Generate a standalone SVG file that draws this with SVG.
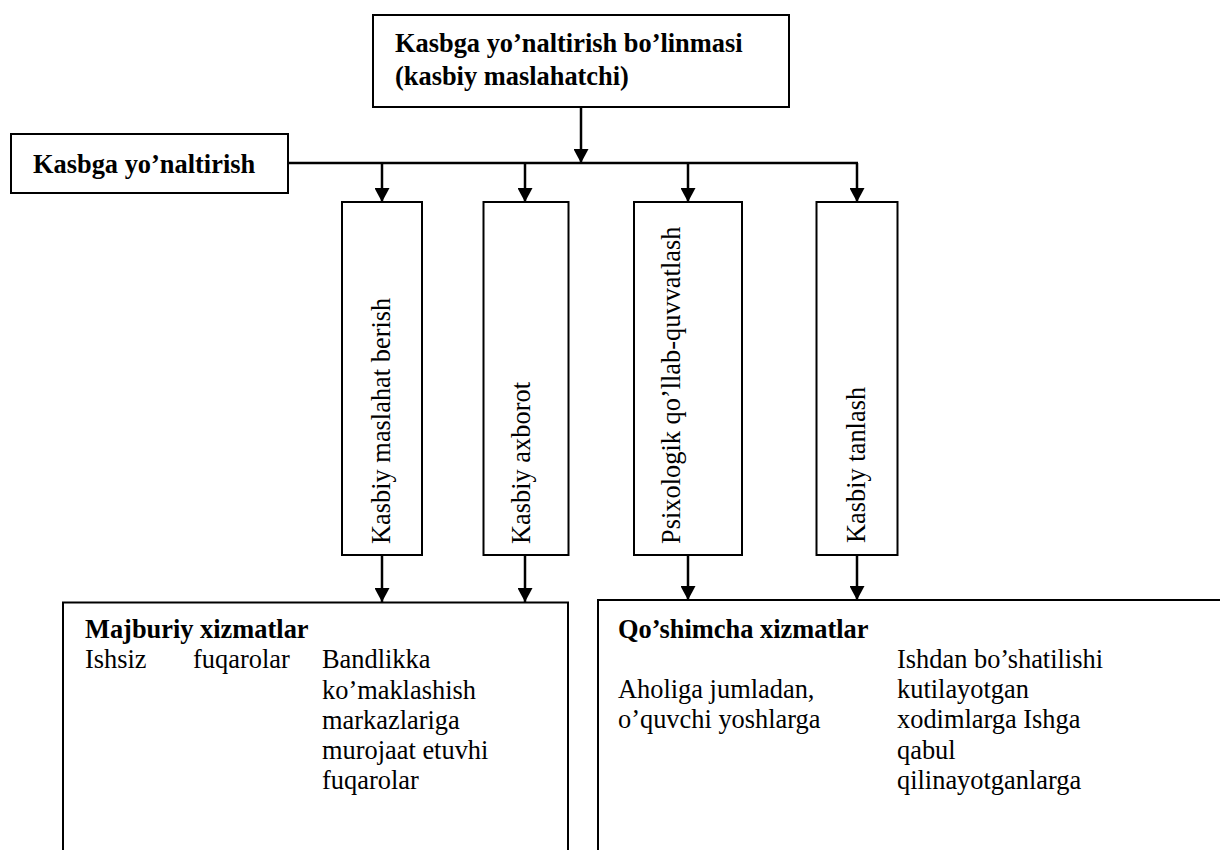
<svg xmlns="http://www.w3.org/2000/svg" width="1220" height="850" viewBox="0 0 1220 850">
<style>
  .box { fill: #ffffff; stroke: #000000; stroke-width: 2; }
  .t { font-family: 'Liberation Serif', 'DejaVu Serif', serif; font-size: 26.4px; fill: #000000; }
  .b { font-weight: bold; }
  .conn { stroke: #000000; stroke-width: 2.5; fill: none; }
  .arr { marker-end: url(#ah); }
</style>
<defs>
  <marker id="ah" markerUnits="userSpaceOnUse" markerWidth="15" markerHeight="15" refX="14" refY="7.5" orient="auto" viewBox="0 0 15 15">
    <path d="M0,0 L14,7.5 L0,15 z" fill="#000000"/>
  </marker>
</defs>
<rect width="1220" height="850" fill="#ffffff"/>

<g id="node-bolinma">
  <rect class="box" x="373" y="15" width="416" height="92"/>
  <text class="t b" font-family="Liberation Serif, serif" x="395" y="52">Kasbga yo’naltirish bo’linmasi</text>
  <text class="t b" font-family="Liberation Serif, serif" x="395" y="85">(kasbiy maslahatchi)</text>
</g>

<g id="node-kasbga-yonaltirish">
  <rect class="box" x="11" y="134" width="277" height="59"/>
  <text class="t b" font-family="Liberation Serif, serif" x="33" y="173">Kasbga yo’naltirish</text>
</g>

<g id="node-maslahat">
  <rect class="box" x="342" y="202" width="80" height="353"/>
  <text class="t" font-family="Liberation Serif, serif" transform="translate(390,544) rotate(-90)">Kasbiy maslahat berish</text>
</g>

<g id="node-axborot">
  <rect class="box" x="483.5" y="202" width="85" height="353"/>
  <text class="t" font-family="Liberation Serif, serif" transform="translate(530,544) rotate(-90)">Kasbiy axborot</text>
</g>

<g id="node-psixologik">
  <rect class="box" x="634" y="202" width="108" height="353"/>
  <text class="t" font-family="Liberation Serif, serif" transform="translate(680,544) rotate(-90)">Psixologik qo’llab-quvvatlash</text>
</g>

<g id="node-tanlash">
  <rect class="box" x="816.5" y="202" width="81" height="353"/>
  <text class="t" font-family="Liberation Serif, serif" transform="translate(865,543) rotate(-90)">Kasbiy tanlash</text>
</g>

<g id="node-majburiy" font-family="Liberation Serif, serif">
  <rect class="box" x="63" y="602.5" width="505" height="260"/>
  <text class="t b" font-family="Liberation Serif, serif" x="85" y="638">Majburiy xizmatlar</text>
  <text class="t" font-family="Liberation Serif, serif" x="85" y="668">Ishsiz</text>
  <text class="t" font-family="Liberation Serif, serif" x="193" y="668">fuqarolar</text>
  <text class="t" font-family="Liberation Serif, serif" x="322" y="668">Bandlikka</text>
  <text class="t" font-family="Liberation Serif, serif" x="322" y="698.5">ko’maklashish</text>
  <text class="t" font-family="Liberation Serif, serif" x="322" y="728.5">markazlariga</text>
  <text class="t" font-family="Liberation Serif, serif" x="322" y="759">murojaat etuvhi</text>
  <text class="t" font-family="Liberation Serif, serif" x="322" y="789">fuqarolar</text>
</g>

<g id="node-qoshimcha">
  <rect class="box" x="598" y="600" width="640" height="262"/>
  <text class="t b" font-family="Liberation Serif, serif" x="618" y="638">Qo’shimcha xizmatlar</text>
  <text class="t" font-family="Liberation Serif, serif" x="897" y="668">Ishdan bo’shatilishi</text>
  <text class="t" font-family="Liberation Serif, serif" x="618" y="698">Aholiga jumladan,</text>
  <text class="t" font-family="Liberation Serif, serif" x="897" y="698">kutilayotgan</text>
  <text class="t" font-family="Liberation Serif, serif" x="618" y="728">o’quvchi yoshlarga</text>
  <text class="t" font-family="Liberation Serif, serif" x="897" y="728">xodimlarga Ishga</text>
  <text class="t" font-family="Liberation Serif, serif" x="897" y="758.5">qabul</text>
  <text class="t" font-family="Liberation Serif, serif" x="897" y="789">qilinayotganlarga</text>
</g>

<g id="connectors">
  <line class="conn arr" x1="581" y1="107" x2="581" y2="163"/>
  <line class="conn" x1="288" y1="163" x2="858" y2="163"/>
  <line class="conn arr" x1="382" y1="163" x2="382" y2="202"/>
  <line class="conn arr" x1="525" y1="163" x2="525" y2="202"/>
  <line class="conn arr" x1="688" y1="163" x2="688" y2="202"/>
  <line class="conn arr" x1="857" y1="163" x2="857" y2="202"/>
  <line class="conn arr" x1="382" y1="555" x2="382" y2="602"/>
  <line class="conn arr" x1="525" y1="555" x2="525" y2="602"/>
  <line class="conn arr" x1="688" y1="555" x2="688" y2="600"/>
  <line class="conn arr" x1="857" y1="555" x2="857" y2="600"/>
</g>
</svg>
